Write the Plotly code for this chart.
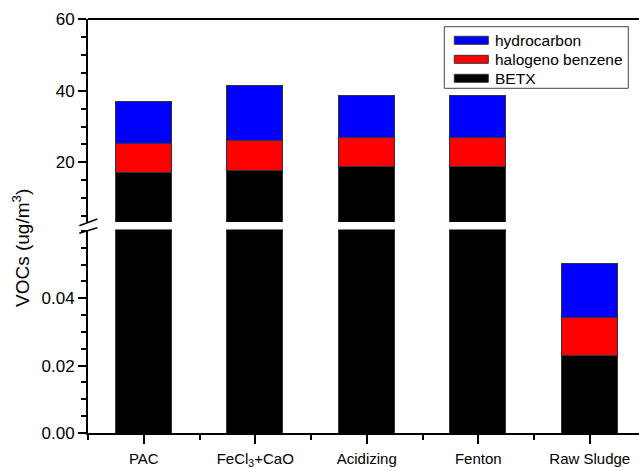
import plotly.graph_objects as go

# ---- data ----
categories = ["PAC", "FeCl<sub>3</sub>+CaO", "Acidizing", "Fenton", "Raw Sludge"]
series_names = ["BETX", "halogeno benzene", "hydrocarbon"]
betx = [16.9, 17.7, 18.7, 18.6, 0.0231]
halogeno = [8.3, 8.2, 8.2, 8.3, 0.0113]
hydrocarbon = [11.5, 15.4, 11.5, 11.5, 0.016]
colors = ["#000000", "#ff0000", "#0000ff"]
lower_ticks = [0.00, 0.02, 0.04]
upper_ticks = [20, 40, 60]

xpos = list(range(1, len(categories) + 1))
series = [betx, halogeno, hydrocarbon]

FONT = "Liberation Sans, Arial, sans-serif"

fig = go.Figure()
for yax in ("y", "y2"):
    for name, vals, col in zip(series_names, series, colors):
        fig.add_trace(go.Bar(
            x=xpos, y=vals, name=name, width=0.5,
            marker=dict(color=col, line=dict(color="#333333", width=1)),
            yaxis=yax, xaxis="x", showlegend=False,
        ))

W, H = 639, 468
ml, mr, mt, mb = 88, 0, 19, 35
pw, ph = W - ml - mr, H - mt - mb
bottom_px = H - mb

def py(ypix):
    return (bottom_px - ypix) / ph

def px(xpix):
    return (xpix - ml) / pw

axis_common = dict(
    showline=True, linecolor="black", linewidth=2,
    ticks="outside", ticklen=8, tickwidth=1.5, tickcolor="black",
    showgrid=False, zeroline=False, automargin=False,
    tickfont=dict(family=FONT, size=17, color="black"),
)

shapes = [
    dict(type="line", xref="paper", yref="paper", x0=0, x1=1, y0=1, y1=1,
         line=dict(color="black", width=2)),
    dict(type="line", xref="paper", yref="paper",
         x0=px(79.3), y0=py(225.7), x1=px(97.3), y1=py(219.0),
         line=dict(color="black", width=1.5)),
    dict(type="line", xref="paper", yref="paper",
         x0=px(79.3), y0=py(233.3), x1=px(97.3), y1=py(227.7),
         line=dict(color="black", width=1.5)),
    # legend box
    dict(type="rect", xref="paper", yref="paper",
         x0=px(444.3), x1=px(628.3), y0=py(88.3), y1=py(26.7),
         line=dict(color="#444444", width=1), fillcolor="white", layer="above"),
]
annotations = [
    dict(text="VOCs (ug/m<sup>3</sup>)", textangle=-90,
         xref="paper", yref="paper", x=px(21), y=py(248),
         xanchor="center", yanchor="middle", showarrow=False,
         font=dict(family=FONT, size=19, color="black")),
]
# legend entries (top to bottom: reversed stacking order)
row_y = [40.3, 59.3, 78.3]
for i, (name, col) in enumerate(zip(series_names[::-1], colors[::-1])):
    yc = row_y[i]
    shapes.append(dict(type="rect", xref="paper", yref="paper",
                       x0=px(454.3), x1=px(488.3), y0=py(yc + 4), y1=py(yc - 4),
                       line=dict(color="#333333", width=1), fillcolor=col,
                       layer="above"))
    annotations.append(dict(text=name, xref="paper", yref="paper",
                            x=px(492.5), y=py(yc), xanchor="left",
                            yanchor="middle", showarrow=False,
                            font=dict(family=FONT, size=15.5, color="black")))

fig.update_layout(
    width=W, height=H,
    margin=dict(l=ml, r=mr, t=mt, b=mb, autoexpand=False),
    paper_bgcolor="white", plot_bgcolor="white",
    barmode="stack", bargap=0,
    font=dict(family=FONT, color="black"),
    showlegend=False,
    xaxis=dict(
        range=[0.5, 0.5 + pw / 111.5],
        tickvals=xpos, ticktext=categories,
        showline=True, linecolor="black", linewidth=2,
        ticks="outside", ticklen=9, tickwidth=1.5, tickcolor="black",
        minor=dict(tickvals=[v + 0.5 for v in [0] + xpos], ticks="outside",
                   ticklen=5, tickwidth=1.5, tickcolor="black"),
        showgrid=False, zeroline=False, anchor="y", automargin=False,
        tickfont=dict(family=FONT, size=15, color="black"),
        ticklabelstandoff=2,
    ),
    yaxis=dict(
        domain=[0, py(229.5)], range=[0, 0.0604],
        tickvals=lower_ticks, tickformat=".2f",
        minor=dict(dtick=0.005, tick0=0, ticks="outside", ticklen=5,
                   tickwidth=1.5, tickcolor="black"),
        anchor="x",
        **axis_common,
    ),
    yaxis2=dict(
        domain=[py(222), 1], range=[3.35, 60],
        tickvals=upper_ticks,
        minor=dict(dtick=5, tick0=0, ticks="outside", ticklen=5,
                   tickwidth=1.5, tickcolor="black"),
        anchor="x",
        **axis_common,
    ),
    shapes=shapes,
    annotations=annotations,
)

fig.write_html(
    "out.html",
    config={"displayModeBar": False},
    post_script="document.body.style.margin='0';document.body.style.overflow='hidden';",
)
